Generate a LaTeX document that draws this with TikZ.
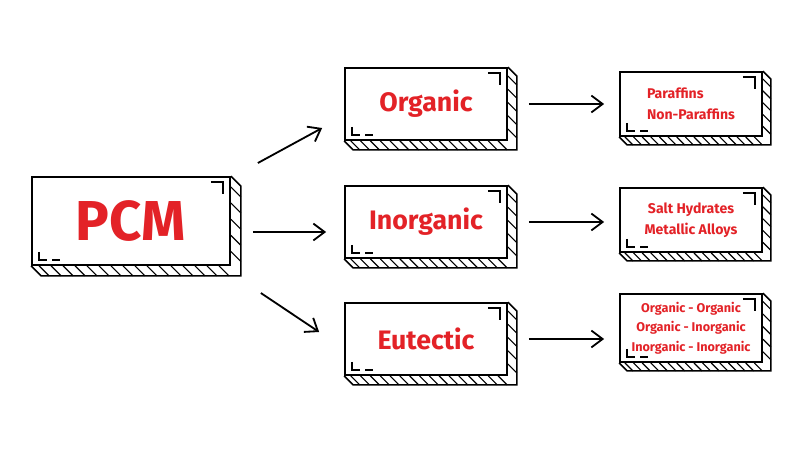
\documentclass[tikz,border=0pt]{standalone}
\usepackage{fontspec}
\setmainfont{Fira Sans}
\usetikzlibrary{calc,arrows.meta}
\definecolor{pcmred}{HTML}{E32227}
\tikzset{
  slab/.style={draw=black, very thick, fill=white, text=pcmred, font=\bfseries, align=center, inner sep=0pt},
  link/.style={-{Straight Barb[length=8pt,width=12pt]}, line width=1.3pt, black}
}
% 3D edge, hatching and corner marks of a box
\newcommand\slabedge[2]{%
  \draw[very thick] (#1.north east) -- ++(#2,#2) -- ($(#1.south east)+(#2,#2)$) -- ($(#1.south west)+(#2,#2)$) -- (#1.south west);
  \foreach \t in {0.04,0.1,...,1}
    \draw[thick] ($(#1.south west)!\t!(#1.south east)$) -- ++(#2,#2);
  \foreach \t in {0.12,0.3,...,1}
    \draw[thick] ($(#1.north east)!\t!(#1.south east)$) -- ++(#2,#2);
  \draw[very thick] ($(#1.north east)+(-20,6)$) -- ++(12,0) -- ++(0,12);
  \draw[very thick] ($(#1.south west)+(8,-14)$) -- ++(0,8) -- ++(8,0) ++(5,0) -- ++(8,0);
}
\begin{document}
\begin{tikzpicture}[x=0.025cm, y=-0.025cm]
  \useasboundingbox (0,0) rectangle (800,450);

  \node[slab, minimum width=4.95cm, minimum height=2.2cm, font=\bfseries\fontsize{40}{40}\selectfont] (pcm) at (131,221) {PCM};
  \slabedge{pcm}{10}

  \node[slab, minimum width=4.05cm, minimum height=1.8cm, font=\bfseries\fontsize{19}{19}\selectfont] (organic) at (426,104) {Organic};
  \node[slab, minimum width=4.05cm, minimum height=1.8cm, font=\bfseries\fontsize{19}{19}\selectfont] (inorganic) at (426,222) {Inorganic};
  \node[slab, minimum width=4.05cm, minimum height=1.8cm, font=\bfseries\fontsize{19}{19}\selectfont] (eutectic) at (426,339) {Eutectic};
  \slabedge{organic}{9}
  \slabedge{inorganic}{9}
  \slabedge{eutectic}{9}

  \node[slab, minimum width=3.55cm, minimum height=1.6cm, align=left, font=\bfseries\fontsize{10}{15}\selectfont] (paraffins) at (691,104) {Paraffins\\Non-Paraffins};
  \node[slab, minimum width=3.55cm, minimum height=1.6cm, font=\bfseries\fontsize{10}{15}\selectfont] (salts) at (691,220) {Salt Hydrates\\Metallic Alloys};
  \node[slab, minimum width=3.55cm, minimum height=1.7cm, font=\bfseries\fontsize{9}{14}\selectfont] (mixes) at (691,328) {Organic - Organic\\Organic - Inorganic\\Inorganic - Inorganic};
  \slabedge{paraffins}{8}
  \slabedge{salts}{8}
  \slabedge{mixes}{8}

  \draw[link] ($(pcm.east)+(27,-58)$) -- ($(organic.west)+(-22,24)$);
  \draw[link] ($(pcm.east)+(22,11)$) -- ($(inorganic.west)+(-18,10)$);
  \draw[link] ($(pcm.east)+(30,72)$) -- ($(eutectic.west)+(-25,-7)$);
  \draw[link] ($(organic.east)+(21,0)$) -- ($(paraffins.west)+(-15,0)$);
  \draw[link] ($(inorganic.east)+(21,0)$) -- ($(salts.west)+(-15,2)$);
  \draw[link] ($(eutectic.east)+(21,0)$) -- ($(mixes.west)+(-15,11)$);
\end{tikzpicture}
\end{document}
